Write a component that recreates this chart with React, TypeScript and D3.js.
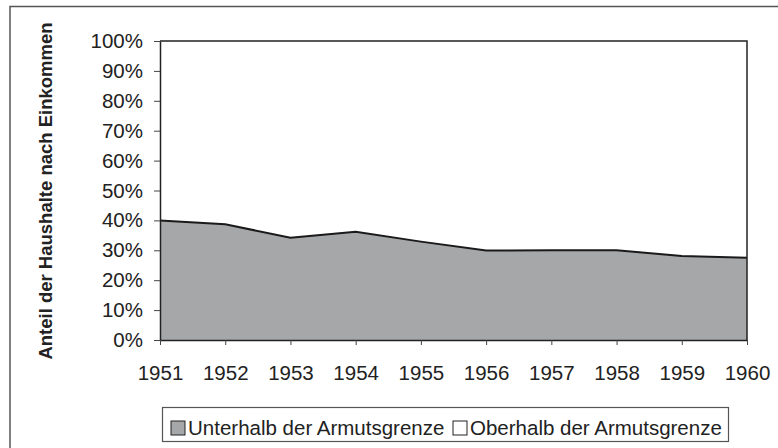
import React, { useEffect, useRef } from 'react';
import * as d3 from 'd3';

const years = [1951, 1952, 1953, 1954, 1955, 1956, 1957, 1958, 1959, 1960];
const unterhalb = [40, 38.7, 34.2, 36.2, 32.9, 29.9, 30, 30, 28.1, 27.5];
const oberhalb = [60, 61.3, 65.8, 63.8, 67.1, 70.1, 70, 70, 71.9, 72.5];
const seriesNames = ['Unterhalb der Armutsgrenze', 'Oberhalb der Armutsgrenze'];
const seriesColors = ['#a6a7a9', '#ffffff'];
const yTicks = [0, 10, 20, 30, 40, 50, 60, 70, 80, 90, 100];
const yTitle = 'Anteil der Haushalte nach Einkommen';

export default function App() {
  const ref = useRef<SVGSVGElement | null>(null);

  useEffect(() => {
    const svg = d3.select(ref.current);
    svg.selectAll('*').remove();

    const font = '"Liberation Sans", Arial, sans-serif';
    const fs = 20.5;
    const left = 160, right = 747, top = 41, bottom = 340;

    const x = d3.scaleLinear().domain([1951, 1960]).range([left, right]);
    const y = d3.scaleLinear().domain([0, 100]).range([bottom, top]);

    // outer chart frame (runs past the right/bottom edge)
    svg.append('rect')
      .attr('x', 10).attr('y', 6.5)
      .attr('width', 800).attr('height', 480)
      .attr('fill', '#fff')
      .attr('stroke', '#555').attr('stroke-width', 1.5);

    const rows = years.map((yr, i) => ({ year: yr, u: unterhalb[i], o: oberhalb[i] }));
    const stacked = d3.stack<any>().keys(['u', 'o'])(rows);

    const area = d3.area<any>()
      .x(d => x(d.data.year))
      .y0(d => y(d[0]))
      .y1(d => y(d[1]));

    svg.append('g').selectAll('path')
      .data(stacked)
      .join('path')
      .attr('fill', (_d, i) => seriesColors[i])
      .attr('d', area);

    // boundary line
    const line = d3.line<any>()
      .x(d => x(d.data.year))
      .y(d => y(d[1]));
    svg.append('path')
      .datum(stacked[0])
      .attr('fill', 'none')
      .attr('stroke', '#1a1a1a')
      .attr('stroke-width', 2)
      .attr('d', line);

    // plot border top/right
    svg.append('path')
      .attr('d', `M${left},${top}H${right}V${bottom}`)
      .attr('fill', 'none')
      .attr('stroke', '#222').attr('stroke-width', 1.5);

    const yAxis = svg.append('g')
      .attr('transform', `translate(${left},0)`)
      .call(d3.axisLeft(y).tickValues(yTicks).tickSize(6).tickPadding(11)
        .tickFormat(d => `${d}%`).tickSizeOuter(0));
    yAxis.select('.domain').attr('stroke', '#222').attr('stroke-width', 1.5);
    yAxis.selectAll('line').attr('stroke', '#444');
    yAxis.selectAll('text')
      .attr('font-family', font).attr('font-size', fs).attr('fill', '#222');

    const xAxis = svg.append('g')
      .attr('transform', `translate(0,${bottom})`)
      .call(d3.axisBottom(x).tickValues(years).tickSize(5).tickPadding(20)
        .tickFormat(d3.format('d')).tickSizeOuter(0));
    xAxis.select('.domain').attr('stroke', '#222').attr('stroke-width', 1.5);
    xAxis.selectAll('line').attr('stroke', '#444');
    xAxis.selectAll('text')
      .attr('font-family', font).attr('font-size', fs).attr('fill', '#222');

    // y title
    svg.append('text')
      .attr('transform', `translate(45,191) rotate(-90)`)
      .attr('text-anchor', 'middle')
      .attr('dominant-baseline', 'central')
      .attr('font-family', font).attr('font-weight', 'bold')
      .attr('font-size', 18.5).attr('fill', '#222')
      .text(yTitle);

    // legend
    const lg = svg.append('g');
    lg.append('rect')
      .attr('x', 162.5).attr('y', 407.5)
      .attr('width', 566).attr('height', 34)
      .attr('fill', '#fff').attr('stroke', '#555').attr('stroke-width', 1.2);
    const itemX = [171, 453];
    seriesNames.forEach((name, i) => {
      lg.append('rect')
        .attr('x', itemX[i]).attr('y', 421)
        .attr('width', 14).attr('height', 14)
        .attr('fill', seriesColors[i]).attr('stroke', '#222').attr('stroke-width', 1);
      lg.append('text')
        .attr('x', itemX[i] + 17).attr('y', 435)
        .attr('font-family', font).attr('font-size', fs).attr('fill', '#222')
        .text(name);
    });
  }, []);

  return (
    <svg ref={ref} width={778} height={448}
      style={{ position: 'absolute', left: 0, top: 0, display: 'block' }} />
  );
}
